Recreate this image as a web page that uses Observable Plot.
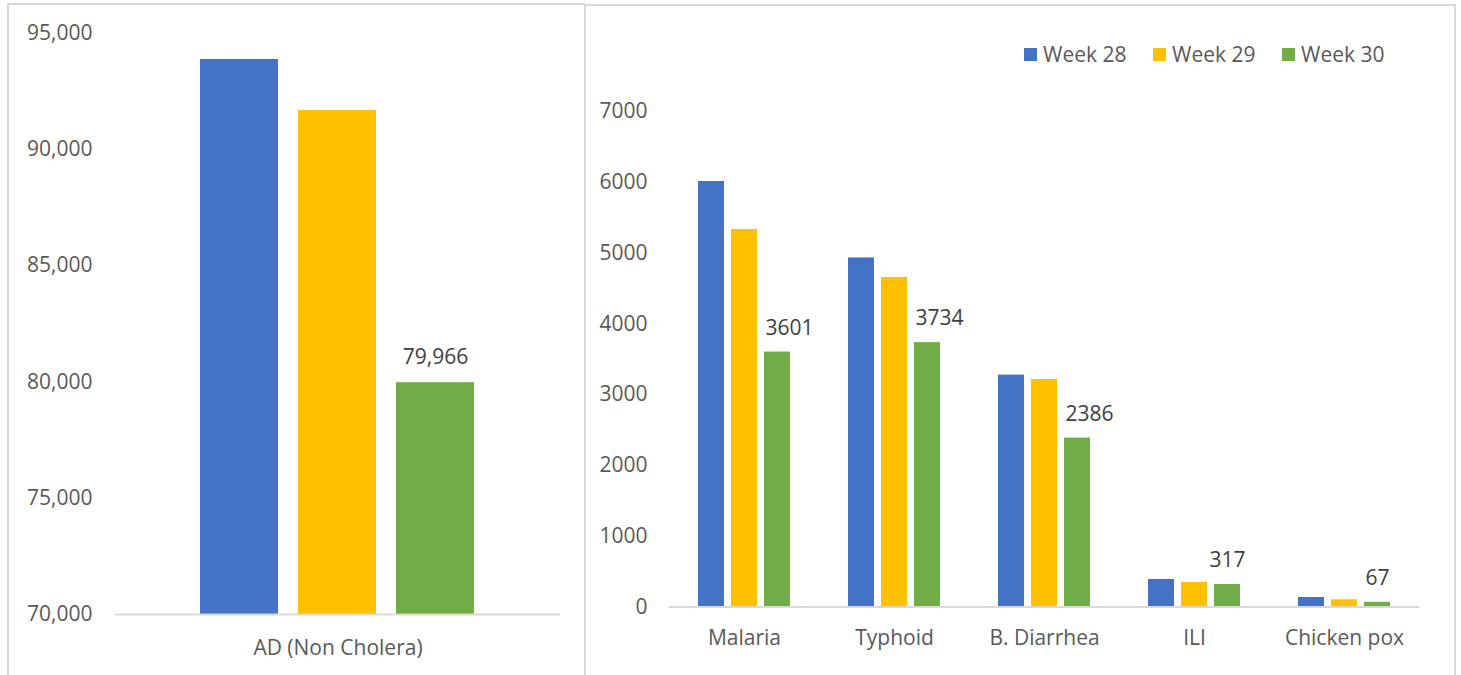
<!DOCTYPE html>
<html>
<head>
<meta charset="utf-8">
<script src="https://cdn.jsdelivr.net/npm/d3@7"></script>
<script src="https://cdn.jsdelivr.net/npm/@observablehq/plot@0.6"></script>
<style>
  html, body { margin: 0; padding: 0; background: #fff; }
  #wrap { position: relative; width: 1461px; height: 675px; overflow: hidden; background: #fff; font-family: "Open Sans", sans-serif; }
  .panel { position: absolute; border: 2px solid #d9d9d9; border-bottom: none; box-sizing: border-box; }
  .chart { position: absolute; top: 0; }
  .legend-item { position: absolute; top: 40px; display: flex; align-items: center; font-size: 21px; color: #595959; white-space: nowrap; }
  .legend-item .sw { width: 13px; height: 13px; margin-right: 6px; }
</style>
</head>
<body>
<div id="wrap">
  <div class="panel" style="left:7px; top:3px; width:579px; height:700px;"></div>
  <div class="panel" style="left:584px; top:4px; width:872px; height:700px;"></div>
  <div class="chart" id="left" style="left:0px;"></div>
  <div class="chart" id="right" style="left:585px;"></div>
  <div id="legend"></div>
</div>
<script>
// ---- Data ----
const weeks = ["Week 28", "Week 29", "Week 30"];
const weekColors = ["#4472C4", "#FFC000", "#70AD47"];

const adCategory = ["AD (Non Cholera)"];
const adValues = [93860, 91670, 79966];

const diseases = ["Malaria", "Typhoid", "B. Diarrhea", "ILI", "Chicken pox"];
const week28 = [6010, 4930, 3275, 388, 134];
const week29 = [5332, 4655, 3213, 346, 102];
const week30 = [3601, 3734, 2386, 317, 67];

// ---- Tables ----
const adData = weeks.map((w, i) => ({category: adCategory[0], week: w, value: adValues[i]}));
const seriesByWeek = [week28, week29, week30];
const disData = diseases.flatMap((d, i) => weeks.map((w, j) => ({disease: d, week: w, value: seriesByWeek[j][i], idx: i})));

const baseStyle = {fontFamily: "Open Sans, sans-serif", fontSize: "21px", color: "#595959", background: "transparent", overflow: "visible"};

// ---- Left chart ----
const left = Plot.plot({
  width: 585,
  height: 675,
  marginLeft: 115,
  marginRight: 25,
  marginTop: 32.5,
  marginBottom: 61,
  style: baseStyle,
  fx: {domain: adCategory, padding: 0, axis: "bottom", tickSize: 0, tickPadding: 26, label: null},
  x: {domain: weeks, paddingInner: 0.2, paddingOuter: 0.859, axis: null},
  y: {domain: [70000, 95000], ticks: 5, tickFormat: d3.format(","), tickSize: 0, tickPadding: 23, label: null},
  color: {domain: weeks, range: weekColors},
  marks: [
    Plot.barY(adData, {fx: "category", x: "week", y1: 70000, y2: "value", fill: "week"}),
    Plot.ruleY([70000], {stroke: "#d9d9d9", strokeWidth: 2}),
    Plot.text(adData.filter(d => d.week === weeks[2]), {
      fx: "category", x: "week", y: "value",
      text: d => d3.format(",")(d.value),
      dy: -25, lineAnchor: "middle", fill: "#404040", fontSize: 21
    })
  ]
});
document.getElementById("left").appendChild(left);

// ---- Right chart ----
const labelData = disData.filter(d => d.week === weeks[2]);
const right = Plot.plot({
  width: 876,
  height: 675,
  marginLeft: 82,
  marginRight: 41,
  marginTop: 110.9,
  marginBottom: 68.5,
  style: baseStyle,
  fx: {domain: diseases, padding: 0, axis: "bottom", tickSize: 0, tickPadding: 23, label: null},
  x: {domain: weeks, paddingInner: 0.208, paddingOuter: 0.839, axis: null},
  y: {domain: [0, 7000], ticks: 7, tickFormat: "d", tickSize: 0, tickPadding: 22, label: null},
  color: {domain: weeks, range: weekColors},
  marks: [
    Plot.barY(disData, {fx: "disease", x: "week", y: "value", fill: "week"}),
    Plot.ruleY([0], {stroke: "#d9d9d9", strokeWidth: 2}),
    Plot.text(labelData.filter(d => d.idx < 3), {
      fx: "disease", x: "week", y: "value", text: d => String(d.value),
      dy: -24, dx: 12, lineAnchor: "middle", fill: "#404040", fontSize: 21
    }),
    Plot.text(labelData.filter(d => d.idx >= 3), {
      fx: "disease", x: "week", y: "value", text: d => String(d.value),
      dy: -24, lineAnchor: "middle", fill: "#404040", fontSize: 21
    })
  ]
});
document.getElementById("right").appendChild(right);

// ---- Legend ----
const legendX = [1024, 1153, 1282];
const legend = document.getElementById("legend");
weeks.forEach((w, i) => {
  const item = document.createElement("div");
  item.className = "legend-item";
  item.style.left = legendX[i] + "px";
  const sw = document.createElement("span");
  sw.className = "sw";
  sw.style.background = weekColors[i];
  const tx = document.createElement("span");
  tx.textContent = w;
  item.appendChild(sw);
  item.appendChild(tx);
  legend.appendChild(item);
});
</script>
</body>
</html>
